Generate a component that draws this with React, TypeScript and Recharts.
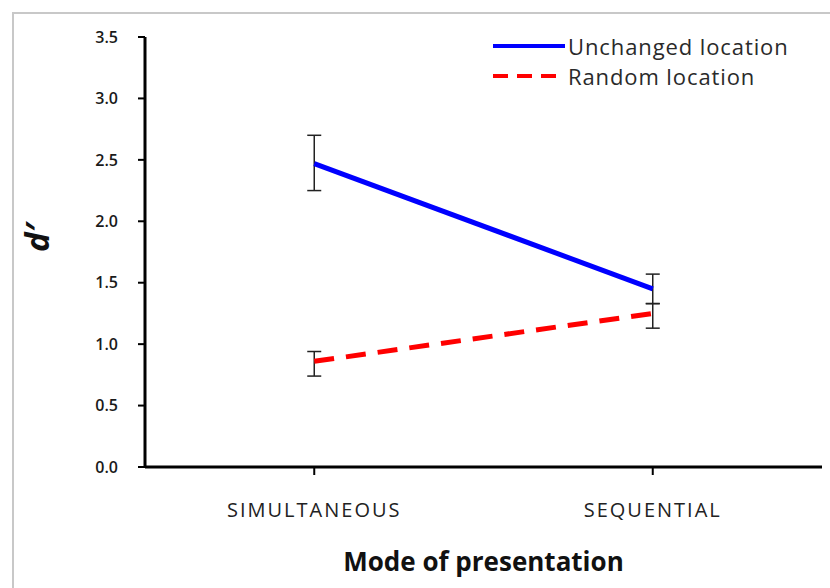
import React from "react";
import {
  LineChart,
  Line,
  XAxis,
  YAxis,
  ErrorBar,
} from "recharts";

const categories = ["SIMULTANEOUS", "SEQUENTIAL"];
const unchanged = [2.47, 1.45];
const unchangedErr = [
  [0.22, 0.23],
  [0.12, 0.12],
];
const random = [0.86, 1.25];
const randomErr = [
  [0.12, 0.08],
  [0.12, 0.08],
];
const yTicks = [0, 0.5, 1, 1.5, 2, 2.5, 3, 3.5];

const data = categories.map((c, i) => ({
  mode: c,
  unchanged: unchanged[i],
  unchangedErr: unchangedErr[i],
  random: random[i],
  randomErr: randomErr[i],
}));

const FONT = "'Open Sans', 'DejaVu Sans', sans-serif";

function LegendBox() {
  const items = [
    { label: "Unchanged location", color: "#0000ff", dash: undefined },
    { label: "Random location", color: "#ff0000", dash: "15 9" },
  ];
  return (
    <div
      style={{
        position: "absolute",
        left: 491,
        top: 31,
        fontFamily: FONT,
        fontSize: 22,
        letterSpacing: 0.9,
        color: "#2a2a2a",
      }}
    >
      {items.map((it) => (
        <div key={it.label} style={{ display: "flex", alignItems: "center", height: 30 }}>
          <svg width={76} height={10}>
            <line x1={2} y1={5} x2={74} y2={5} stroke={it.color} strokeWidth={4} strokeDasharray={it.dash} />
          </svg>
          <span style={{ marginLeft: 1 }}>{it.label}</span>
        </div>
      ))}
    </div>
  );
}

export default function App() {
  return (
    <div style={{ position: "absolute", left: 0, top: 0, width: 830, height: 588, background: "#fff", overflow: "hidden" }}>
      <div
        style={{
          position: "absolute",
          left: 12,
          top: 12,
          width: 830,
          height: 588,
          borderLeft: "2px solid #c8c8c8",
          borderTop: "2px solid #c8c8c8",
        }}
      />
      <LineChart
        width={830}
        height={588}
        data={data}
        margin={{ top: 37, right: 8, left: 85, bottom: 81 }}
        style={{ position: "absolute", left: 0, top: 0 }}
      >
        <XAxis
          dataKey="mode"
          scale="band"
          height={40}
          axisLine={{ stroke: "#000", strokeWidth: 3 }}
          tickLine={{ stroke: "#000", strokeWidth: 2 }}
          tickSize={8}
          tick={{ fill: "#222", fontSize: 20, letterSpacing: 2, fontFamily: FONT }}
          tickMargin={28}
          label={{
            value: "Mode of presentation",
            position: "bottom",
            offset: 46,
            style: { fill: "#111", fontSize: 26, fontWeight: 700, fontFamily: FONT },
          }}
        />
        <YAxis
          width={60}
          domain={[0, 3.5]}
          ticks={yTicks}
          tickFormatter={(v: number) => v.toFixed(1)}
          axisLine={{ stroke: "#000", strokeWidth: 3 }}
          tickLine={{ stroke: "#000", strokeWidth: 2 }}
          tickSize={7}
          tick={{ fill: "#1a1a1a", fontSize: 16, fontWeight: 600, fontFamily: FONT }}
          tickMargin={20}
          label={{
            value: "d\u2032",
            angle: -90,
            position: "insideLeft",
            offset: -48,
            style: { fill: "#111", fontSize: 33, fontWeight: 700, fontStyle: "italic", fontFamily: FONT },
          }}
        />
        <Line
          type="linear"
          dataKey="unchanged"
          stroke="#0000ff"
          strokeWidth={5}
          dot={false}
          activeDot={false}
          isAnimationActive={false}
        >
          <ErrorBar dataKey="unchangedErr" width={7} stroke="#222" strokeWidth={1.5} direction="y" />
        </Line>
        <Line
          type="linear"
          dataKey="random"
          stroke="#ff0000"
          strokeWidth={5}
          strokeDasharray="20 12"
          dot={false}
          activeDot={false}
          isAnimationActive={false}
        >
          <ErrorBar dataKey="randomErr" width={7} stroke="#222" strokeWidth={1.5} direction="y" />
        </Line>
      </LineChart>
      <LegendBox />
    </div>
  );
}
